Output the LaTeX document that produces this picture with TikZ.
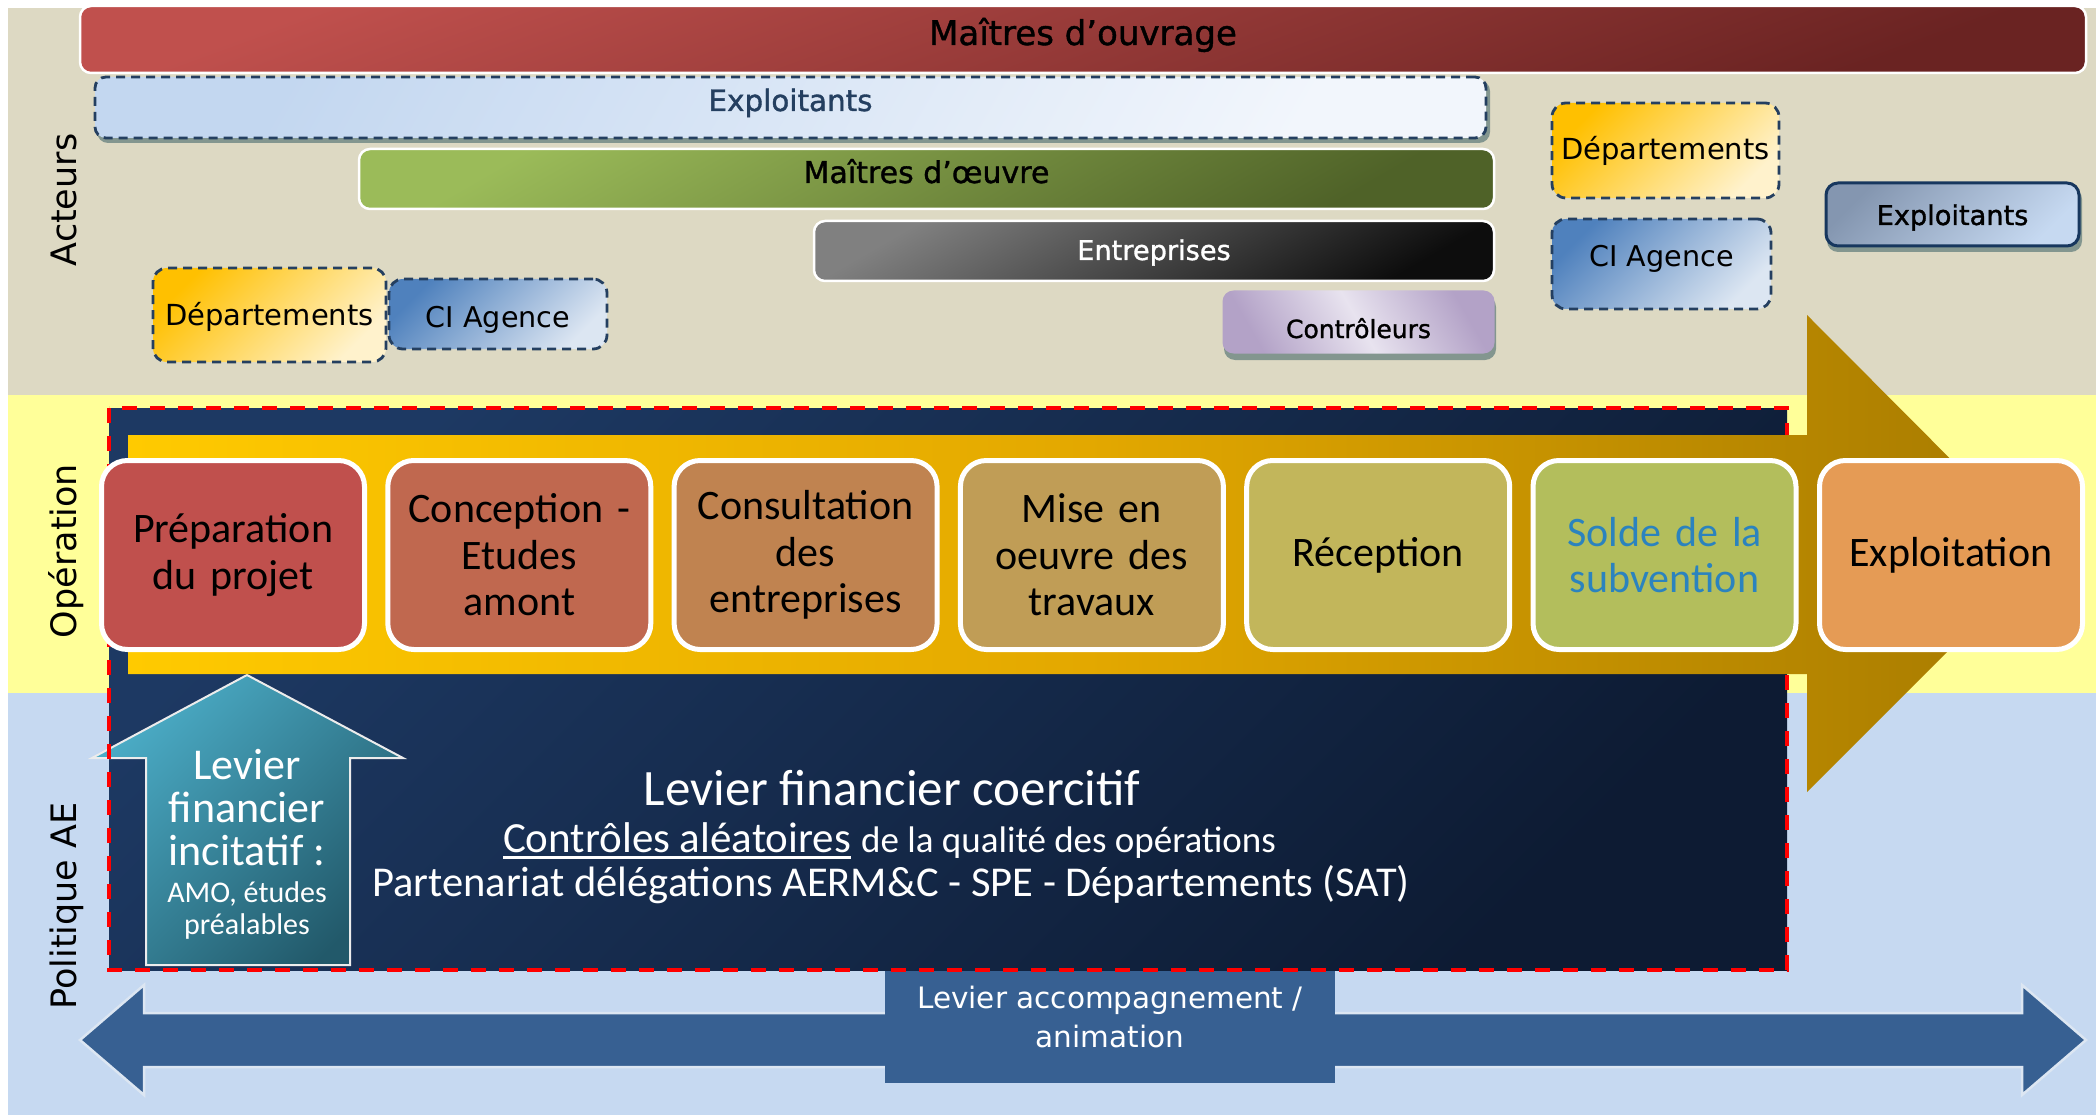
\documentclass[tikz,border=0pt]{standalone}
\usepackage{fontspec}
\setmainfont{Carlito}
\newfontfamily\lblfont{DejaVu Sans}
\newfontfamily\lblbold{DejaVu Sans}[FakeBold=1.2]

\definecolor{bandActeurs}{HTML}{DDD9C3}
\definecolor{bandOperation}{HTML}{FFFF99}
\definecolor{bandPolitique}{HTML}{C6D9F1}
\definecolor{dashBlue}{HTML}{243F60}
\definecolor{steelBlue}{HTML}{376092}
\definecolor{paleBlue}{HTML}{DCE6F2}
\definecolor{navyTop}{HTML}{1D3963}
\definecolor{navyBot}{HTML}{0D1B33}
\definecolor{goldL}{HTML}{FFCA00}
\definecolor{goldM}{HTML}{E3A800}
\definecolor{goldR}{HTML}{A67A00}
\definecolor{tealA}{HTML}{4BACC6}
\definecolor{tealB}{HTML}{22596A}
\definecolor{stepA}{HTML}{C0504D}
\definecolor{stepB}{HTML}{C0684F}
\definecolor{stepC}{HTML}{C08350}
\definecolor{stepD}{HTML}{C09D56}
\definecolor{stepE}{HTML}{C2B65B}
\definecolor{stepF}{HTML}{B3BE5C}
\definecolor{stepG}{HTML}{E59B55}
\definecolor{soldeBlue}{HTML}{2B83BE}
\definecolor{shadowGrey}{HTML}{5E7A7A}
\definecolor{ouvrageA}{HTML}{C0504D}
\definecolor{ouvrageB}{HTML}{6A2322}
\definecolor{explA}{HTML}{C3D7F0}
\definecolor{explB}{HTML}{F2F6FC}
\definecolor{oeuvreA}{HTML}{9BBB59}
\definecolor{oeuvreB}{HTML}{4F6228}
\definecolor{entrA}{HTML}{808080}
\definecolor{entrB}{HTML}{0D0D0D}
\definecolor{ctrlA}{HTML}{B3A2C7}
\definecolor{ctrlB}{HTML}{E8E3EF}
\definecolor{depA}{HTML}{FFC000}
\definecolor{depB}{HTML}{FFF2CC}
\definecolor{ciA}{HTML}{4F81BD}
\definecolor{ciB}{HTML}{DCE6F2}
\definecolor{explRA}{HTML}{8496B0}
\definecolor{explRB}{HTML}{C6D9F1}
\definecolor{explRLine}{HTML}{17375E}

\begin{document}
\begin{tikzpicture}[x=1pt,y=-1pt,
  every node/.style={inner sep=0pt, outer sep=0pt},
  actorbar/.style={rounded corners=11pt, draw=white, line width=2.5pt},
  dashbox/.style={rounded corners=14pt, draw=dashBlue, line width=2.8pt, dash pattern=on 9pt off 6pt},
  castshadow/.style={fill=shadowGrey, fill opacity=0.7, rounded corners=11pt},
  actortxt/.style={font=\lblfont\fontsize{#1}{#1}\selectfont, anchor=base},
  actorbold/.style={font=\lblbold\fontsize{#1}{#1}\selectfont, anchor=base},
  stepbox/.style={rounded corners=26pt, draw=white, line width=5pt,
    minimum width=263pt, minimum height=189pt, text width=250pt, align=center,
    font=\fontsize{42}{46.5}\selectfont},
  sidelbl/.style={font=\lblfont\fontsize{35}{35}\selectfont, rotate=90, anchor=base},
  levtxt/.style={font=\fontsize{#1}{#1}\selectfont, text=white, anchor=base},
]
\useasboundingbox (0,0) rectangle (2096,1115);
\fill[white] (0,0) rectangle (2096,1115);

% horizontal bands
\fill[bandActeurs] (8,8) rectangle (2096,395);
\fill[bandOperation] (8,395) rectangle (2096,693);
\fill[bandPolitique] (8,693) rectangle (2096,1115);

% band titles
\node[sidelbl] (lblActeurs) at (76,200) {Acteurs};
\node[sidelbl] (lblOperation) at (76,551) {Opération};
\node[sidelbl] (lblPolitique) at (76,906) {Politique AE};

% actors
\node[actorbar, minimum width=2006pt, minimum height=67pt,
  top color=ouvrageA, bottom color=ouvrageB, shading angle=20] (mouv) at (1083,39.5) {};
\fill[castshadow] (97,80) rectangle (1490,143);
\node[dashbox, rounded corners=11pt, minimum width=1391pt, minimum height=61pt,
  top color=explA, bottom color=explB, shading angle=60] (expl) at (790.5,107.5) {};
\node[actorbar, minimum width=1135pt, minimum height=60pt,
  top color=oeuvreA, bottom color=oeuvreB, shading angle=30] (moeuv) at (926.5,179) {};
\node[actorbar, minimum width=680pt, minimum height=60pt,
  top color=entrA, bottom color=entrB, shading angle=30] (entr) at (1154,251) {};
\fill[castshadow] (1224,296) rectangle (1496,360);
\node[rounded corners=11pt, minimum width=272pt, minimum height=63pt,
  top color=ctrlA, bottom color=ctrlA, middle color=ctrlB, shading angle=-60] (ctrl) at (1358.5,322) {};
\node[dashbox, minimum width=233pt, minimum height=94pt,
  top color=depA, bottom color=depB, shading angle=45] (depL) at (269.5,315) {};
\node[dashbox, minimum width=218pt, minimum height=70pt,
  top color=ciA, bottom color=ciB, shading angle=45] (ciL) at (498,314) {};
\node[dashbox, minimum width=227pt, minimum height=95pt,
  top color=depA, bottom color=depB, shading angle=45] (depR) at (1665.5,150.5) {};
\node[dashbox, minimum width=219pt, minimum height=90pt,
  top color=ciA, bottom color=ciB, shading angle=45] (ciR) at (1661.5,264) {};
\fill[castshadow] (1827,188) rectangle (2082,252);
\node[rounded corners=12pt, draw=explRLine, line width=3pt, minimum width=253pt, minimum height=63pt,
  top color=explRA, bottom color=explRB, shading angle=45] (explR) at (1952.5,214.5) {};

\node[actorbold=34] (tmouv) at (1083,45) {Maîtres d’ouvrage};
\node[actorbold=29.4, text=dashBlue] (texpl) at (790.5,111) {Exploitants};
\node[actorbold=30] (tmoeuv) at (926.5,183) {Maîtres d’œuvre};
\node[actorbold=27.2, text=white] (tentr) at (1154,260) {Entreprises};
\node[actorbold=25] (tctrl) at (1358.5,338) {Contrôleurs};
\node[actortxt=29] (tdepL) at (269.5,325) {Départements};
\node[actortxt=28.6] (tciL) at (498,327) {CI Agence};
\node[actortxt=29] (tdepR) at (1665.5,160) {Départements};
\node[actortxt=28.6] (tciR) at (1661.5,267) {CI Agence};
\node[actorbold=27.2] (texplR) at (1952.5,225) {Exploitants};

% support lever: double arrow with its label plate
\path[fill=steelBlue, draw=paleBlue, line width=2.5pt]
  (80,1040) -- (144,985) -- (144,1013) -- (2022,1013) -- (2022,985) -- (2086,1040)
  -- (2022,1095) -- (2022,1067) -- (144,1067) -- (144,1095) -- cycle;
\node[fill=steelBlue, minimum width=450pt, minimum height=113pt] (acc) at (1110,1026.5) {};
\node[actortxt=29.5, text=white] (tacc1) at (1110,1008) {Levier accompagnement /};
\node[actortxt=29.5, text=white] (tacc2) at (1110,1047) {animation};

% coercive lever panel
\node[minimum width=1678pt, minimum height=562pt,
  top color=navyTop, bottom color=navyBot, shading angle=45] (navy) at (948,689) {};

% incentive lever arrow
\path[top color=tealA, bottom color=tealB, shading angle=45, draw=white!85!gray, line width=2pt]
  (247,675) -- (403,758) -- (350,758) -- (350,965) -- (146,965) -- (146,758) -- (92,758) -- cycle;

\draw[red, line width=4pt, dash pattern=on 15pt off 13pt] (navy.north west) rectangle (navy.south east);

% operation timeline arrow
\path[left color=goldL, right color=goldR, middle color=goldM]
  (128,435) -- (1807,435) -- (1807,315) -- (2045,554) -- (1807,792) -- (1807,674) -- (128,674) -- cycle;

% operation steps
\node[stepbox, fill=stepA] (s1) at (233,555) {Préparation\\du projet};
\node[stepbox, fill=stepB] (s2) at (519.3,555) {Conception -\\Etudes\\amont};
\node[stepbox, fill=stepC] (s3) at (805.6,555) {Consultation\\des\\entreprises};
\node[stepbox, fill=stepD] (s4) at (1091.9,555) {Mise en\\oeuvre des\\travaux};
\node[stepbox, fill=stepE] (s5) at (1378.2,555) {Réception};
\node[stepbox, fill=stepF, text=soldeBlue] (s6) at (1664.5,555) {Solde de la\\subvention};
\node[stepbox, fill=stepG] (s7) at (1951,555) {Exploitation};

% incentive lever text
\node[levtxt=44] (inc1) at (247,779) {Levier};
\node[levtxt=44] (inc2) at (247,822) {financier};
\node[levtxt=44] (inc3) at (247,865) {incitatif :};
\node[levtxt=30] (inc4) at (247,902) {AMO, études};
\node[levtxt=30] (inc5) at (247,934) {préalables};

% coercive lever text
\node[levtxt=51] (coer) at (892,805) {Levier financier coercitif};
\node[levtxt=43, anchor=base west] (ca) at (503,852) {Contrôles aléatoires};
\node[levtxt=37, anchor=base west] (dq) at ([xshift=10pt]ca.base east) {de la qualité des opérations};
\draw[white, line width=3pt] ([yshift=-5pt]ca.base west) -- ([yshift=-5pt]ca.base east);
\node[levtxt=42.5] (part) at (891,896) {Partenariat délégations AERM\&C - SPE - Départements (SAT)};
\end{tikzpicture}
\end{document}
